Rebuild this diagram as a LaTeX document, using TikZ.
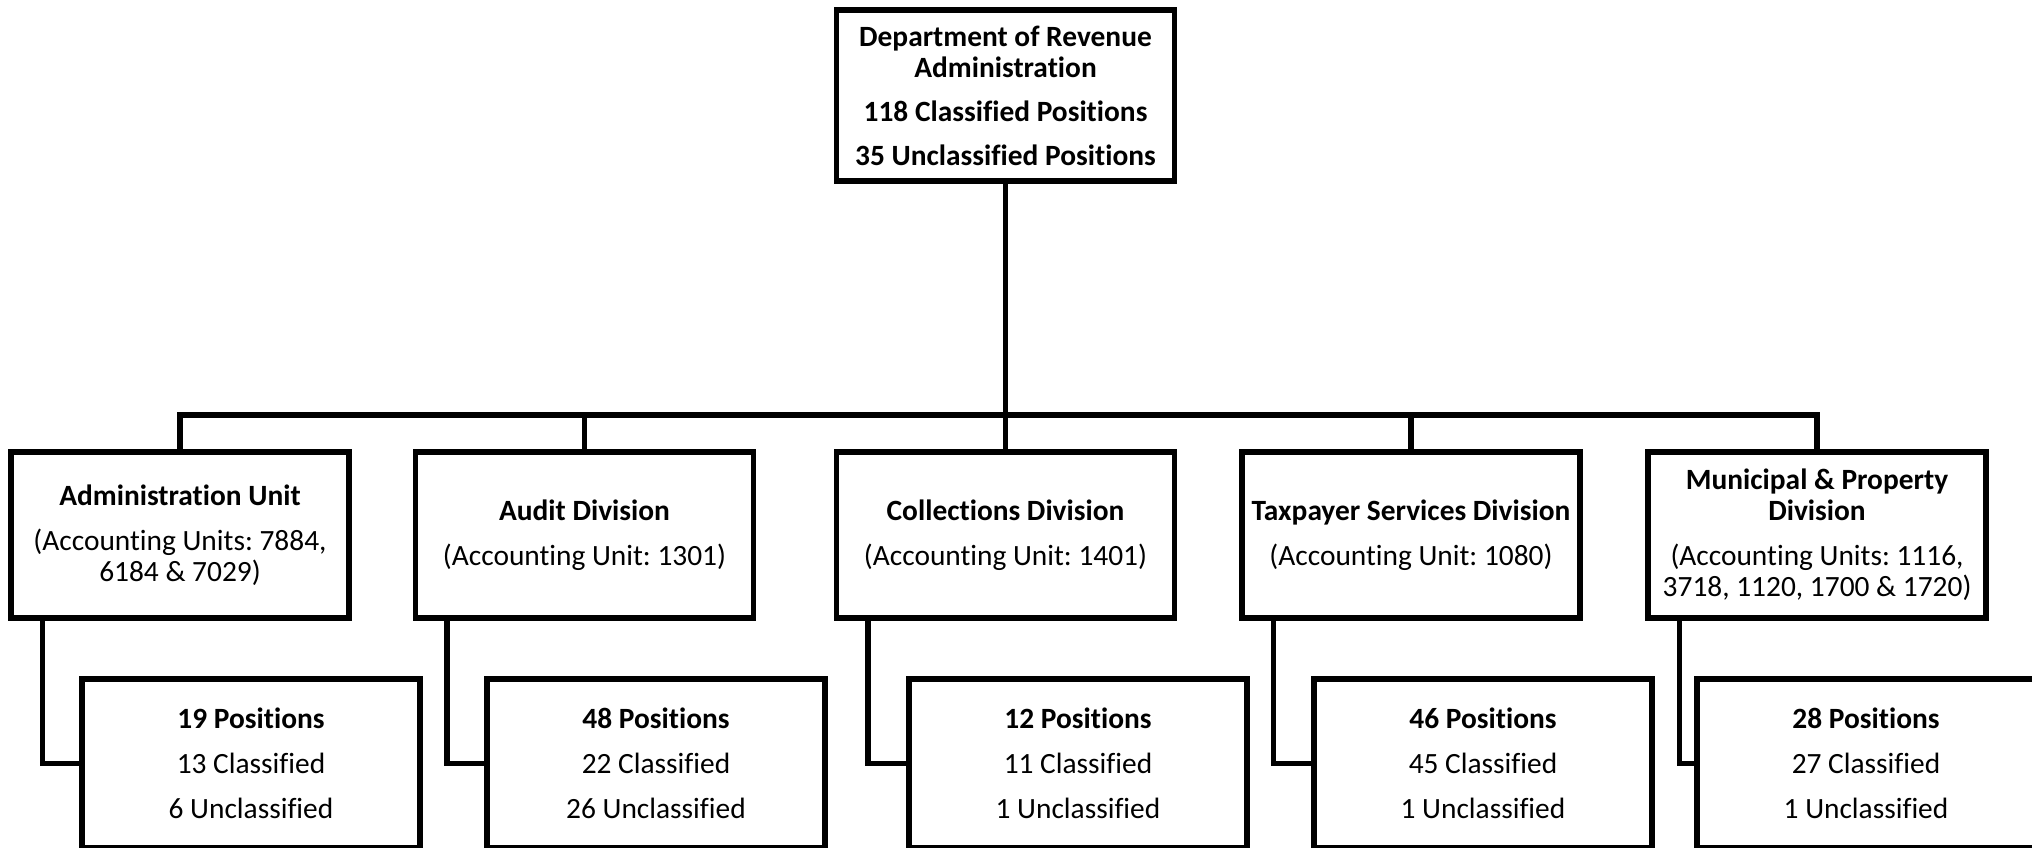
\documentclass[tikz,border=0pt]{standalone}
\usepackage{fontspec}
\setmainfont{Carlito}[Ligatures=NoCommon]
\frenchspacing
\begin{document}
\begin{tikzpicture}[x=0.5pt,y=-0.5pt,
  box/.style={draw,line width=2.6pt,inner sep=0pt,align=center,
    font=\fontsize{14.7}{15.5}\selectfont,minimum width=169pt},
  topbox/.style={box,minimum height=85.5pt},
  divbox/.style={box,minimum height=83pt},
  posbox/.style={box,minimum height=84.5pt},
  conn/.style={line width=2.6pt}]
\fill[white] (0,0) rectangle (2032,847);
\clip (0,0) rectangle (2032,847);
\useasboundingbox (0,0) rectangle (2032,847);

\node[topbox] (dept) at (1005.5,95.5) {\textbf{Department of Revenue}\\\textbf{Administration}\\[6.5pt]\textbf{118 Classified Positions}\\[6.5pt]\textbf{35 Unclassified Positions}};

\node[divbox] (admin) at (180,535) {\textbf{Administration Unit}\\[7pt](Accounting Units: 7884,\\6184 \& 7029)};
\node[divbox] (audit) at (584.5,535) {\textbf{Audit Division}\\[7pt](Accounting Unit: 1301)};
\node[divbox] (coll) at (1005.5,535) {\textbf{Collections Division}\\[7pt](Accounting Unit: 1401)};
\node[divbox] (tax) at (1411,535) {\textbf{Taxpayer Services Division}\\[7pt](Accounting Unit: 1080)};
\node[divbox] (muni) at (1817,535) {\textbf{Municipal \& Property}\\\textbf{Division}\\[7pt](Accounting Units: 1116,\\3718, 1120, 1700 \& 1720)};

\node[posbox] (adminpos) at (251,763.5) {\textbf{19 Positions}\\[7pt]13 Classified\\[7pt]6 Unclassified};
\node[posbox] (auditpos) at (656,763.5) {\textbf{48 Positions}\\[7pt]22 Classified\\[7pt]26 Unclassified};
\node[posbox] (collpos) at (1078,763.5) {\textbf{12 Positions}\\[7pt]11 Classified\\[7pt]1 Unclassified};
\node[posbox] (taxpos) at (1483,763.5) {\textbf{46 Positions}\\[7pt]45 Classified\\[7pt]1 Unclassified};
\node[posbox] (munipos) at (1866,763.5) {\textbf{28 Positions}\\[7pt]27 Classified\\[7pt]1 Unclassified};

\coordinate (bar) at (1005.5,415);
\draw[conn] (dept.south) -- (bar);
\foreach \n in {admin,audit,coll,tax,muni}{
  \draw[conn] (\n.north) |- (bar);
  \draw[conn] ([xshift=17pt]\n.south west) |- (\n pos.west);
}
\end{tikzpicture}
\end{document}
